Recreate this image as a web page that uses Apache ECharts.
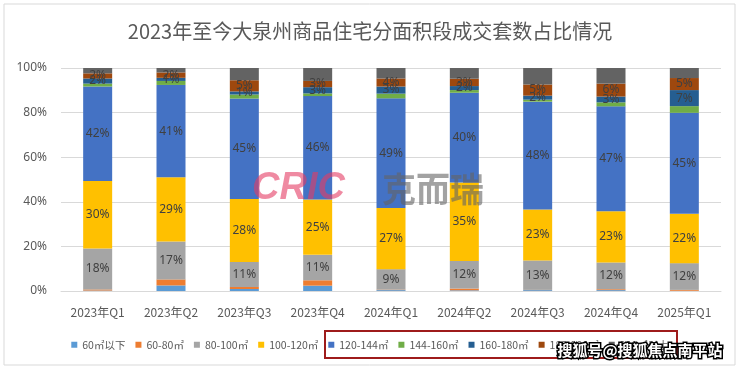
<!DOCTYPE html>
<html>
<head>
<meta charset="utf-8">
<script src="https://cdn.jsdelivr.net/npm/echarts@6/dist/echarts.min.js"></script>
<style>
html,body{margin:0;padding:0;background:#fff;}
#c{width:740px;height:369px;}
</style>
</head>
<body>
<div id="c"></div>
<script>
const categories = ['2023年Q1','2023年Q2','2023年Q3','2023年Q4','2024年Q1','2024年Q2','2024年Q3','2024年Q4','2025年Q1'];
const seriesNames = ['60㎡以下','60-80㎡','80-100㎡','100-120㎡','120-144㎡','144-160㎡','160-180㎡','180-200㎡','200㎡以上'];
const s60below = [0.2, 2.5, 0.9, 2.4, 0.4, 0.3, 0.4, 0.4, 0.1];
const s60_80   = [0.5, 2.7, 0.9, 2.4, 0.2, 0.8, 0.1, 0.4, 0.4];
const s80_100  = [18.4, 17.0, 11.2, 11.4, 9.2, 12.4, 13.2, 12.0, 12.0];
const s100_120 = [30.2, 28.8, 28.3, 24.8, 27.4, 35.2, 22.8, 23.0, 22.1];
const s120_144 = [42.4, 41.4, 45.0, 46.4, 49.2, 40.2, 48.4, 47.0, 45.3];
const s144_160 = [1.3, 1.8, 1.8, 1.2, 2.1, 1.2, 0.9, 1.8, 3.0];
const s160_180 = [2.3, 1.4, 1.4, 2.8, 3.2, 1.8, 1.8, 2.6, 7.2];
const s180_200 = [2.3, 2.4, 5.0, 2.8, 3.6, 3.3, 5.0, 5.8, 5.4];
const s200up   = [2.4, 2.0, 5.5, 5.8, 4.7, 4.8, 7.4, 7.0, 4.5];
const yTicks = ['0%','20%','40%','60%','80%','100%'];

const allData = [s60below, s60_80, s80_100, s100_120, s120_144, s144_160, s160_180, s180_200, s200up];
const colors = ['#5B9BD5','#ED7D31','#A5A5A5','#FFC000','#4472C4','#70AD47','#255E91','#9E480E','#636363'];
const labeled = [false,false,true,true,true,false,true,true,false];

const chart = echarts.init(document.getElementById('c'), null, {renderer:'canvas'});
const series = allData.map((d,i)=>({
  name: seriesNames[i],
  type: 'bar',
  stack: 'total',
  barWidth: 29,
  data: d,
  itemStyle: {color: colors[i]},
  label: {
    show: labeled[i],
    position: 'inside',
    color: '#404040',
    fontSize: 12,
    fontFamily: 'Noto Sans',
    formatter: p => Math.round(p.value) + '%'
  }
}));

chart.setOption({
  animation: false,
  backgroundColor: '#fff',
  title: {
    text: '2023年至今大泉州商品住宅分面积段成交套数占比情况',
    left: 'center',
    top: 16,
    textStyle: {fontFamily: 'Noto Sans CJK SC', fontSize: 20, fontWeight: 'normal', color: '#595959'}
  },
  grid: {left: 61, right: 19, top: 68, bottom: 78},
  legend: {
    bottom: 14,
    left: 'center',
    itemWidth: 6,
    itemHeight: 6,
    itemGap: 10,
    icon: 'rect',
    textStyle: {fontFamily: 'Noto Sans CJK SC', fontSize: 10.5, color: '#595959'},
    data: seriesNames
  },
  xAxis: {
    type: 'category',
    data: categories,
    axisLine: {show: true, lineStyle: {color: '#d9d9d9'}},
    axisTick: {show: false},
    axisLabel: {fontFamily: 'Noto Sans CJK SC', fontSize: 12, color: '#595959', margin: 15}
  },
  yAxis: {
    type: 'value',
    min: 0,
    max: 100,
    interval: 20,
    axisLine: {show: false},
    axisTick: {show: false},
    splitLine: {lineStyle: {color: '#d9d9d9'}},
    axisLabel: {fontFamily: 'Noto Sans', fontSize: 12, color: '#595959', margin: 14,
      formatter: v => yTicks[Math.round(v/20)]}
  },
  series: series,
  graphic: [
    {type: 'rect', shape: {x: 4, y: 4, width: 731, height: 361}, style: {fill: 'none', stroke: '#d9d9d9', lineWidth: 1}, silent: true},
    {type: 'text', left: 252, top: 170, style: {text: 'CRIC', font: 'italic bold 38px Liberation Sans', fill: 'rgba(228,60,100,0.6)'}, z: 100, silent: true},
    {type: 'text', left: 382, top: 172, style: {text: '克而瑞', font: 'bold 34px "Noto Sans CJK SC"', fill: 'rgba(100,100,100,0.6)'}, z: 100, silent: true},
    {type: 'rect', shape: {x: 325, y: 331, width: 352, height: 27}, style: {fill: 'none', stroke: '#9E1B1B', lineWidth: 2}, z: 100, silent: true},
    {type: 'text', left: 556, top: 341, style: {text: '搜狐号@搜狐焦点南平站', font: 'bold 15px "Noto Sans CJK SC"', fill: '#fff', stroke: '#000', lineWidth: 3}, z: 101, silent: true}
  ]
});
</script>
</body>
</html>
